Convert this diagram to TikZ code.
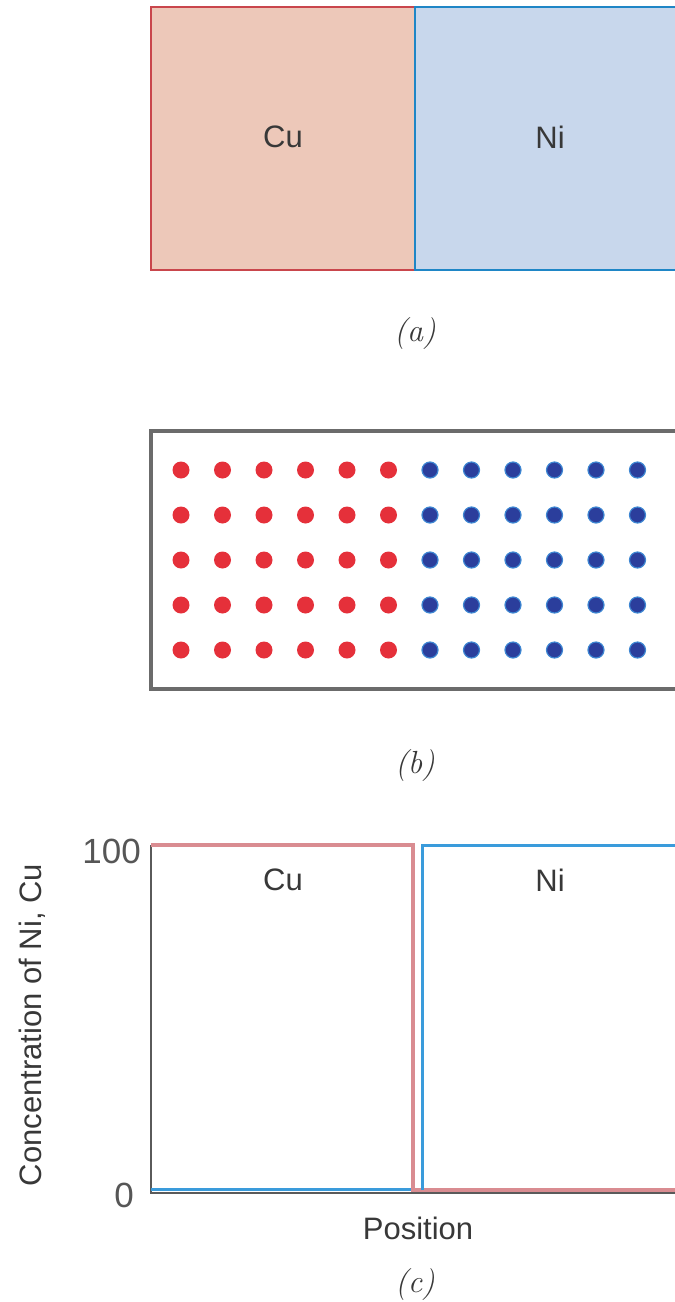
\documentclass[tikz,border=0pt]{standalone}
\usepackage{fontspec}
\setsansfont{Liberation Sans}
\definecolor{cufill}{HTML}{EDC8B9}
\definecolor{cuedge}{HTML}{C9464C}
\definecolor{nifill}{HTML}{C8D7EC}
\definecolor{niedge}{HTML}{1F86C6}
\definecolor{cudot}{HTML}{E5303A}
\definecolor{nidot}{HTML}{2B3E9C}
\definecolor{nidotedge}{HTML}{3D86D2}
\definecolor{cuplot}{HTML}{D98C91}
\definecolor{niplot}{HTML}{3A9BDB}
\definecolor{axisgray}{HTML}{5A5A5A}
\definecolor{txt}{HTML}{383838}
\begin{document}
\begin{tikzpicture}[x=1pt,y=-1pt,
  lbl/.style={font=\sffamily\fontsize{31}{36}\selectfont, text=txt, inner sep=0pt},
  numlbl/.style={font=\sffamily\fontsize{35}{40}\selectfont, text=txt!85, inner sep=0pt},
  partlbl/.style={font=\itshape\fontsize{32}{36}\selectfont, text=txt, inner sep=0pt},
  cubox/.style={fill=cufill, draw=cuedge, line width=2.6pt},
  nibox/.style={fill=nifill, draw=niedge, line width=2.6pt},
  cuatom/.style={circle, fill=cudot, minimum size=17pt, inner sep=0pt},
  niatom/.style={circle, fill=nidot, draw=nidotedge, line width=1.2pt, minimum size=16pt, inner sep=0pt},
  axisline/.style={draw=axisgray, line width=2.6pt},
  cucurve/.style={draw=cuplot, line width=3.6pt},
  nicurve/.style={draw=niplot, line width=3pt}
]
\useasboundingbox (0,0) rectangle (675,1302);
\clip (0,0) rectangle (675,1302);

% (a) diffusion couple
\draw[cubox] (151,7) rectangle (415,270);
\draw[nibox] (415,7) rectangle (720,270);
\node[lbl] (cuA) at (283,137) {Cu};
\node[lbl] (niA) at (550,137) {Ni};
\node[partlbl] (capA) at (415,334) {(a)};

% (b) atomic arrangement
\draw[draw=axisgray!90, line width=3.2pt] (151,431) rectangle (720,689);
\foreach \i in {0,...,11}{
  \foreach \j in {0,...,4}{
    \pgfmathsetmacro{\xx}{181+\i*41.5}
    \pgfmathsetmacro{\yy}{470+\j*45}
    \ifnum\i<6
      \node[cuatom] (atom-\i-\j) at (\xx,\yy) {};
    \else
      \node[niatom] (atom-\i-\j) at (\xx,\yy) {};
    \fi
  }
}
\node[partlbl] (capB) at (415,766) {(b)};

% (c) concentration profile
\draw[axisline] (151,845) -- (151,1193) -- (720,1193);
\draw[nicurve] (151,1189) -- (413,1189);
\draw[cucurve] (151,845) -- (413,845) -- (413,1190) -- (720,1190);
\draw[nicurve] (422,1190) -- (422,845) -- (720,845);
\node[lbl] (cuC) at (283,880) {Cu};
\node[lbl] (niC) at (550,880) {Ni};
\node[numlbl, anchor=east] (hundred) at (141,851) {100};
\node[numlbl, anchor=east] (zero) at (134,1195) {0};
\node[lbl, rotate=90] (ylab) at (32,1025) {Concentration of Ni, Cu};
\node[lbl] (xlab) at (418,1228) {Position};
\node[partlbl] (capC) at (415,1284) {(c)};
\end{tikzpicture}
\end{document}
